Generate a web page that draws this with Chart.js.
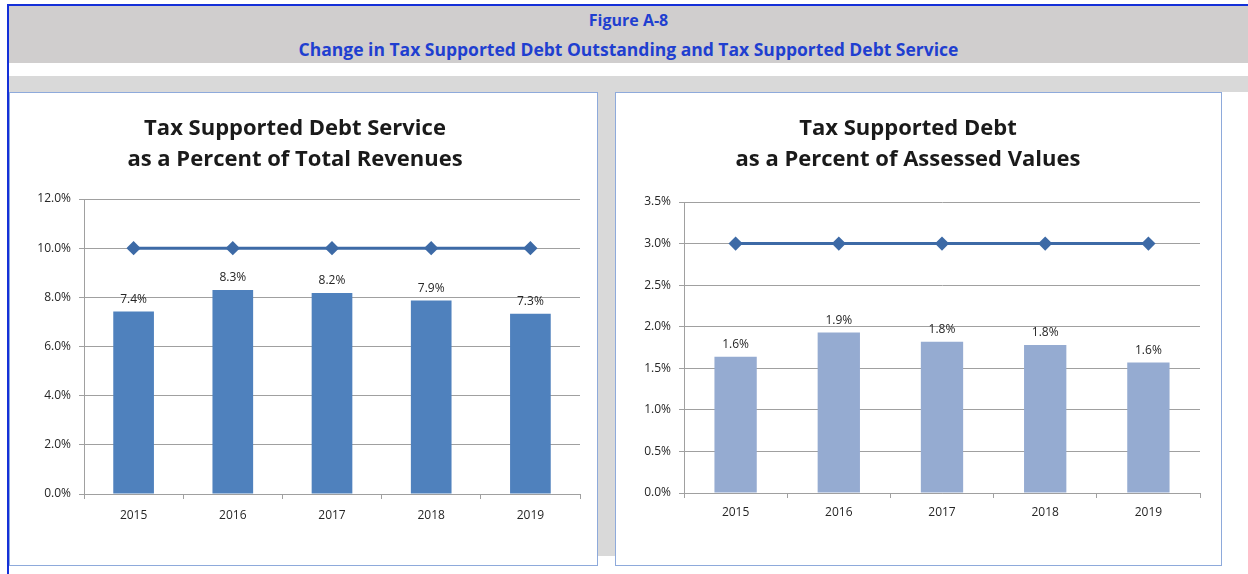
<!DOCTYPE html>
<html>
<head>
<meta charset="utf-8">
<script src="https://cdn.jsdelivr.net/npm/chart.js@4.4.0/dist/chart.umd.min.js"></script>
<style>
  body { margin: 0; width: 1248px; height: 574px; background: #fff; position: relative; overflow: hidden; font-family: "Open Sans", sans-serif; }
  .blue-rule { position: absolute; background: #1430d8; }
  #header { position: absolute; left: 9px; top: 6px; width: 1239px; height: 57px; background: #d0cece; color: #1f3fd0; font-weight: bold; font-size: 16px; text-align: center; }
  #header div { position: absolute; left: 0; width: 100%; line-height: 20px; }
  .gray { position: absolute; background: #d9d9d9; }
  .panel { position: absolute; top: 92px; height: 474px; box-sizing: border-box; border: 1px solid #8eaadb; background: #fff; }
  .panel canvas { position: absolute; left: 0; top: 0; }
</style>
</head>
<body>
<div class="blue-rule" style="left:7px; top:4px; width:1241px; height:2px;"></div>
<div class="blue-rule" style="left:7px; top:4px; width:2px; height:570px;"></div>
<div id="header">
  <div style="top:4px;">Figure A-8</div>
  <div style="top:33px; font-size:17.5px;">Change in Tax Supported Debt Outstanding and Tax Supported Debt Service</div>
</div>
<div class="gray" style="left:9px; top:76px; width:1239px; height:16px;"></div>
<div class="gray" style="left:598px; top:92px; width:17px; height:464px;"></div>

<div class="panel" style="left:9px; width:589px;"><canvas id="serviceChart" width="587" height="472"></canvas></div>
<div class="panel" style="left:615px; width:607px;"><canvas id="debtChart" width="605" height="472"></canvas></div>

<script>
// fiscal years shown on both charts
const years = ['2015', '2016', '2017', '2018', '2019'];

// debt service as % of total revenues, with the 10% policy limit
const serviceRatio = [7.42, 8.3, 8.18, 7.87, 7.33];
const serviceLimit = [10, 10, 10, 10, 10];

// debt as % of assessed values, with the 3% policy limit
const debtRatio = [1.64, 1.93, 1.82, 1.78, 1.57];
const debtLimit = [3, 3, 3, 3, 3];

const serviceTitle = ['Tax Supported Debt Service', 'as a Percent of Total Revenues'];
const debtTitle = ['Tax Supported Debt', 'as a Percent of Assessed Values'];

const FONT = '"Open Sans", sans-serif';
Chart.defaults.font.family = FONT;
Chart.defaults.color = '#262626';

// writes each bar's value above it
const barLabels = {
  id: 'barLabels',
  afterDatasetsDraw(chart) {
    const ctx = chart.ctx;
    const meta = chart.getDatasetMeta(0);
    const values = chart.data.datasets[0].data;
    ctx.save();
    ctx.font = '12px ' + FONT;
    ctx.fillStyle = '#262626';
    ctx.textAlign = 'center';
    ctx.textBaseline = 'middle';
    meta.data.forEach((bar, i) => {
      ctx.fillText(values[i].toFixed(1) + '%', bar.x, bar.y - 12);
    });
    ctx.restore();
  }
};

function makeChart(id, title, values, limit, barColor, yMax, yStep, opts) {
  const gridColor = '#a0a0a0';
  return new Chart(document.getElementById(id), {
    type: 'bar',
    data: {
      labels: years,
      datasets: [
        {
          type: 'bar',
          data: values,
          backgroundColor: barColor,
          barPercentage: 0.41,
          categoryPercentage: 1,
          order: 2
        },
        {
          type: 'line',
          data: limit,
          borderColor: '#3d6aa6',
          backgroundColor: '#3d6aa6',
          borderWidth: 3,
          pointStyle: 'rectRot',
          pointRadius: 5,
          pointHoverRadius: 5,
          order: 1
        }
      ]
    },
    options: {
      responsive: false,
      animation: false,
      layout: { padding: { left: 0, right: opts.rightPad, top: 0, bottom: 0 } },
      plugins: {
        legend: { display: false },
        tooltip: { enabled: false },
        title: {
          display: true,
          text: title,
          color: '#1a1a1a',
          font: { size: 22, weight: 'bold', lineHeight: 31 / 22 },
          padding: { top: 20, bottom: opts.titleGap }
        }
      },
      scales: {
        x: {
          offset: true,
          grid: { offset: true, drawOnChartArea: false, color: gridColor, tickLength: 5 },
          border: { color: gridColor },
          ticks: { font: { size: 12 }, padding: opts.xPad },
          afterFit: (s) => { s.height = opts.xHeight; }
        },
        y: {
          min: 0,
          max: yMax,
          grid: { color: gridColor, tickLength: 5 },
          border: { color: gridColor },
          ticks: {
            stepSize: yStep,
            font: { size: 12 },
            padding: 8,
            callback: (v) => v.toFixed(1) + '%'
          },
          afterFit: (s) => { s.width = opts.yWidth; }
        }
      }
    },
    plugins: [barLabels]
  });
}

makeChart('serviceChart', serviceTitle, serviceRatio, serviceLimit, '#4f81bd', 12, 2,
  { rightPad: 17, titleGap: 24, xHeight: 71, xPad: 9, yWidth: 74 });
makeChart('debtChart', debtTitle, debtRatio, debtLimit, '#95abd1', 3.5, 0.5,
  { rightPad: 21, titleGap: 27, xHeight: 72, xPad: 7, yWidth: 68 });
</script>
</body>
</html>
